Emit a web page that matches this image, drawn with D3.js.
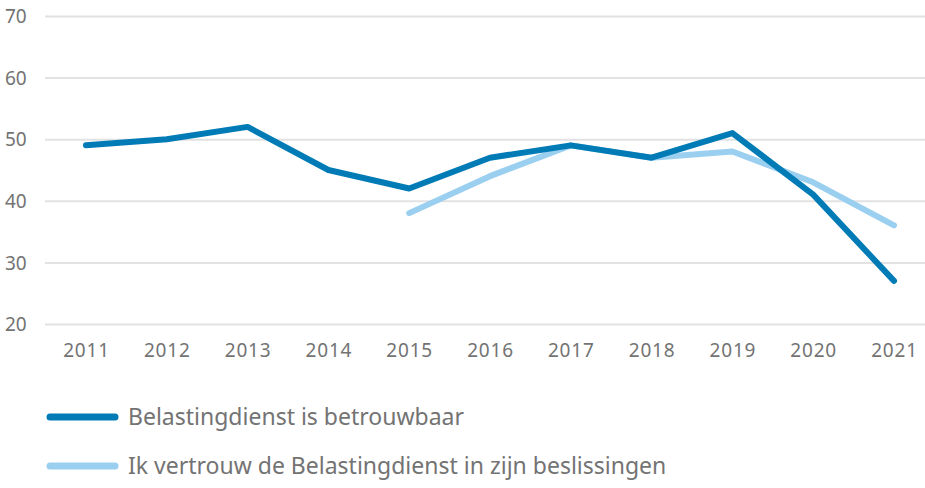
<!DOCTYPE html>
<html>
<head>
<meta charset="utf-8">
<script src="https://cdn.jsdelivr.net/npm/d3@7"></script>
<style>
  body { margin: 0; background: #fff; }
  svg { display: block; font-family: "Noto Sans", "Open Sans", sans-serif; }
</style>
</head>
<body>
<div id="chart"></div>
<script>
let years = [2011, 2012, 2013, 2014, 2015, 2016, 2017, 2018, 2019, 2020, 2021]
let betrouwbaar = [49, 50, 52, 45, 42, 47, 49, 47, 51, 41, 27]
let vertrouwen = [null, null, null, null, 38, 44, 49, 47, 48, 43, 36]
let yTicks = [20, 30, 40, 50, 60, 70]

let seriesNames = ["Belastingdienst is betrouwbaar", "Ik vertrouw de Belastingdienst in zijn beslissingen"]
let colors = { dark: "#007bb6", light: "#9bcff0", text: "#737373", grid: "#e2e2e2" }

let width = 925, height = 488

let svg = d3.select('#chart')
    .append('svg')
    .attr('width', width)
    .attr('height', height)

let x = d3.scalePoint()
    .domain(years)
    .range([86, 894])

let y = d3.scaleLinear()
    .domain([20, 70])
    .range([324, 16])

// gridlines + y labels
let yAxis = d3.axisLeft(y)
    .tickValues(yTicks)
    .tickSize(-(width - 45))

svg.append('g')
    .attr('transform', 'translate(45,0)')
    .call(yAxis)
    .call(g => g.attr('font-size', 19).attr('font-family', null))
    .call(g => g.select('.domain').remove())
    .call(g => g.selectAll('line').attr('stroke', colors.grid).attr('stroke-width', 2))
    .call(g => g.selectAll('text')
        .attr('fill', colors.text)
        .attr('text-anchor', 'start')
        .attr('x', -40)
        .attr('dy', '0.35em'))

let xAxis = d3.axisBottom(x).tickSize(0).tickPadding(0)

svg.append('g')
    .attr('transform', 'translate(0,343)')
    .call(xAxis)
    .call(g => g.attr('font-size', 19).attr('font-family', null))
    .call(g => g.select('.domain').remove())
    .call(g => g.selectAll('text')
        .attr('fill', colors.text)
        .attr('dy', '0.71em')
        .attr('letter-spacing', '0.8px'))

let line = d3.line()
    .defined(d => d[1] != null)
    .x(d => x(d[0]))
    .y(d => y(d[1]))

svg.append('path')
    .datum(years.map((yr, i) => [yr, vertrouwen[i]]))
    .attr('d', line)
    .attr('fill', 'none')
    .attr('stroke', colors.light)
    .attr('stroke-width', 6)
    .attr('stroke-linecap', 'round')
    .attr('stroke-linejoin', 'round')

svg.append('path')
    .datum(years.map((yr, i) => [yr, betrouwbaar[i]]))
    .attr('d', line)
    .attr('fill', 'none')
    .attr('stroke', colors.dark)
    .attr('stroke-width', 6)
    .attr('stroke-linecap', 'round')
    .attr('stroke-linejoin', 'round')

// legend
let legend = svg.append('g')
let legendColors = [colors.dark, colors.light]
let legendY = [417, 466]

seriesNames.forEach((name, i) => {
    legend.append('line')
        .attr('x1', 50).attr('x2', 115)
        .attr('y1', legendY[i]).attr('y2', legendY[i])
        .attr('stroke', legendColors[i])
        .attr('stroke-width', 7)
        .attr('stroke-linecap', 'round')
    legend.append('text')
        .attr('x', 128)
        .attr('y', legendY[i])
        .attr('dy', '0.35em')
        .attr('fill', colors.text)
        .attr('font-size', '23px')
        .text(name)
})
</script>
</body>
</html>
